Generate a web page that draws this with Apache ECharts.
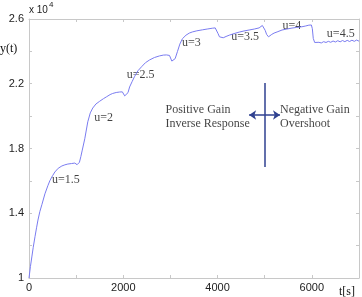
<!DOCTYPE html>
<html><head><meta charset="utf-8">
<script src="https://cdn.jsdelivr.net/npm/echarts@6/dist/echarts.min.js"></script>
<style>html,body{margin:0;padding:0;background:#fff}#c{width:362px;height:297px}</style>
</head><body><div id="c"></div>
<script>
// time [s]
var tVals = [0,30,60,90,127,160,190,230,275,338,400,444,500,549,620,697,760,824,900,972,1000,1020,1040,1070,1100,1130,1183,1247,1300,1352,1420,1500,1580,1648,1720,1775,1850,1923,1980,2000,2030,2060,2100,2134,2190,2240,2310,2388,2470,2557,2660,2768,2850,2916,2980,3000,3030,3060,3100,3150,3200,3254,3330,3400,3465,3560,3676,3780,3888,3950,3990,4010,4040,4080,4120,4180,4247,4350,4458,4560,4669,4780,4881,4950,4990,5010,5040,5080,5110,5150,5198,5280,5367,5470,5578,5680,5789,5870,5937,5990,6010,6030,6060,6100,6150,6200,6250,6300,6350,6400,6450,6500,6550,6600,6650,6700,6750,6800,6850,6900,6950,7000];
// y(t) in units of 10^4
var yVals = [1.0,1.07,1.13,1.19,1.255,1.31,1.358,1.41,1.455,1.52,1.57,1.602,1.632,1.655,1.678,1.692,1.699,1.704,1.707,1.71,1.708,1.70,1.697,1.715,1.75,1.79,1.86,1.965,2.02,2.05,2.075,2.092,2.108,2.12,2.133,2.14,2.146,2.149,2.15,2.145,2.125,2.122,2.145,2.18,2.215,2.245,2.28,2.305,2.33,2.347,2.362,2.372,2.377,2.378,2.375,2.365,2.34,2.335,2.355,2.40,2.445,2.478,2.50,2.513,2.52,2.527,2.533,2.538,2.543,2.545,2.54,2.51,2.49,2.483,2.484,2.492,2.50,2.51,2.519,2.526,2.532,2.538,2.545,2.56,2.558,2.53,2.505,2.49,2.492,2.505,2.513,2.522,2.532,2.538,2.544,2.548,2.552,2.557,2.562,2.563,2.54,2.48,2.455,2.452,2.456,2.452,2.46,2.455,2.462,2.456,2.464,2.458,2.466,2.459,2.467,2.46,2.468,2.461,2.469,2.462,2.47,2.463];
// step annotations
var uLabels = ['u=1.5','u=2','u=2.5','u=3','u=3.5','u=4','u=4.5'];
var uT = [782,1585,2366,3444,4585,5578,6613];
var uY = [1.605,1.988,2.254,2.451,2.489,2.557,2.507];
// region annotations
var noteText = ['Positive Gain','Inverse Response','Negative Gain','Overshoot'];
var noteT = [2895,2895,5324,5324];
var noteY = [2.038,1.951,2.038,1.951];
// divider & arrow (data coords)
var dividerT = 5000, dividerY = [1.686,2.204];
var arrowT = [4669,5324], arrowY = 2.007;

var xTicks = [0,2000,4000,6000];
var yTicks = ['1','1.4','1.8','2.2','2.6'];

var lineData = tVals.map(function(t,i){return [t,yVals[i]];});
var uData = uLabels.map(function(s,i){return [uT[i],uY[i],s];});
var noteData = noteText.map(function(s,i){return [noteT[i],noteY[i],s];});

var axisCol = '#c8c8c8';
var chart = echarts.init(document.getElementById('c'));
chart.setOption({
  animation:false,
  backgroundColor:'#fff',
  grid:{left:29,right:3,top:19,bottom:19},
  xAxis:[{type:'value',min:0,max:7000,interval:1000,
    axisLine:{show:true,onZero:false,lineStyle:{color:axisCol,width:1}},
    axisTick:{show:true,inside:true,length:3,lineStyle:{color:axisCol}},
    splitLine:{show:false},
    axisLabel:{margin:4,color:'#222',fontFamily:'Liberation Sans',fontSize:11,
      formatter:function(v){return xTicks.indexOf(v)>=0?String(v):'';}}},
    {type:'value',position:'top',min:0,max:7000,interval:1000,
    axisLine:{show:true,onZero:false,lineStyle:{color:axisCol}},
    axisTick:{show:true,inside:true,length:3,lineStyle:{color:axisCol}},
    axisLabel:{show:false},splitLine:{show:false}}],
  yAxis:[{type:'value',min:1,max:2.6,interval:0.2,
    axisLine:{show:true,onZero:false,lineStyle:{color:axisCol}},
    axisTick:{show:true,inside:true,length:3,lineStyle:{color:axisCol}},
    splitLine:{show:false},
    axisLabel:{margin:5,color:'#222',fontFamily:'Liberation Sans',fontSize:11,
      formatter:function(v){var s=String(Math.round(v*10)/10);return yTicks.indexOf(s)>=0?s:'';}}},
    {type:'value',position:'right',min:1,max:2.6,interval:0.2,
    axisLine:{show:true,onZero:false,lineStyle:{color:axisCol}},
    axisTick:{show:true,inside:true,length:3,lineStyle:{color:axisCol}},
    axisLabel:{show:false},splitLine:{show:false}}],
  series:[
    {type:'line',data:lineData,showSymbol:false,symbol:'none',
     lineStyle:{color:'#7a7cf0',width:1},
     markLine:{silent:true,symbol:['none','none'],label:{show:false},
       lineStyle:{color:'#2f4190',width:1.5,type:'solid'},
       data:[
         [{coord:[dividerT,dividerY[0]]},{coord:[dividerT,dividerY[1]]}],
         [{coord:[arrowT[0],arrowY],symbol:'arrow',symbolSize:[7,7]},{coord:[arrowT[1],arrowY],symbol:'arrow',symbolSize:[7,7]}]
       ]}},
    {type:'scatter',data:uData,symbolSize:0.1,itemStyle:{color:'rgba(0,0,0,0)'},silent:true,
     label:{show:true,position:'inside',color:'#111',fontFamily:'Liberation Serif',fontSize:12,
       formatter:function(p){return p.value[2];}}},
    {type:'scatter',data:noteData,symbolSize:0.1,itemStyle:{color:'rgba(0,0,0,0)'},silent:true,
     label:{show:true,position:'inside',align:'left',color:'#111',fontFamily:'Liberation Serif',fontSize:12,
       formatter:function(p){return p.value[2];}}}
  ],
  graphic:[
    {type:'text',left:0,top:43,style:{text:'y(t)',font:'12px "Liberation Serif"',fill:'#111'}},
    {type:'text',left:339,top:286,style:{text:'t[s]',font:'12px "Liberation Serif"',fill:'#111'}},
    {type:'text',left:29,top:5,style:{text:'x 10',font:'10px "Liberation Sans"',fill:'#222'}},
    {type:'text',left:49,top:1,style:{text:'4',font:'8px "Liberation Sans"',fill:'#222'}}
  ]
});
</script></body></html>
